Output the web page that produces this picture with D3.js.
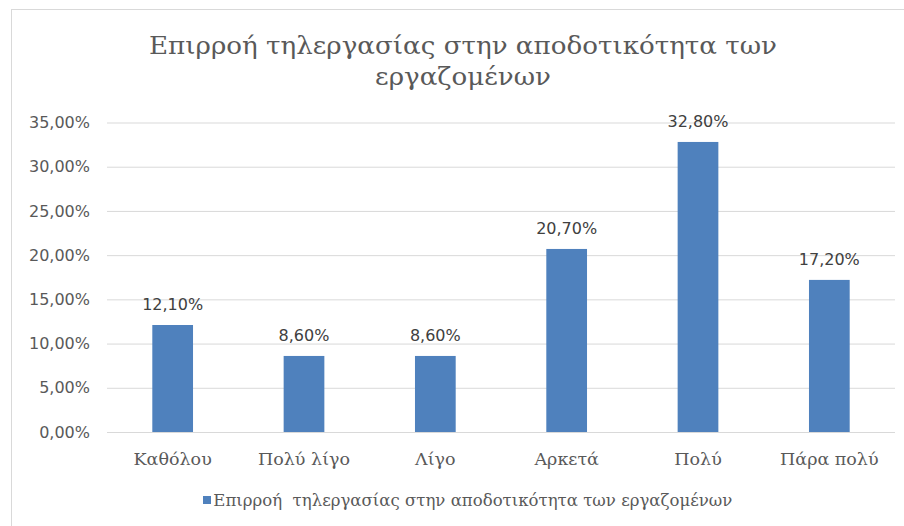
<!DOCTYPE html>
<html>
<head>
<meta charset="utf-8">
<script src="https://cdn.jsdelivr.net/npm/d3@7"></script>
<style>
  html, body { margin: 0; padding: 0; background: #fff; }
  svg { display: block; }
</style>
</head>
<body>
<svg id="chart" width="904" height="526"></svg>
<script>
// Chart content
const titleLines = ["Επιρροή τηλεργασίας στην αποδοτικότητα των", "εργαζομένων"];
const seriesName = "Επιρροή  τηλεργασίας στην αποδοτικότητα των εργαζομένων";
const categories = ["Καθόλου", "Πολύ λίγο", "Λίγο", "Αρκετά", "Πολύ", "Πάρα πολύ"];
const values = [12.1, 8.6, 8.6, 20.7, 32.8, 17.2];
const yTicks = [0, 5, 10, 15, 20, 25, 30, 35];

const fmtPct = v => v.toFixed(2).replace(".", ",") + "%";

const svg = d3.select("#chart");
const textGray = "#595959";
const barColor = "#4f81bd";
const serif = "'DejaVu Serif', serif";
const sans = "'DejaVu Sans', Verdana, sans-serif";

svg.append("rect").attr("width", 904).attr("height", 526).attr("fill", "#fff");

// chart area frame
svg.append("rect")
  .attr("x", 11.5).attr("y", 9.5)
  .attr("width", 920).attr("height", 540)
  .attr("fill", "none").attr("stroke", "#d9d9d9");

const plot = { left: 107, right: 895, top: 122.5, bottom: 432 };

const x = d3.scaleBand()
  .domain(categories)
  .range([plot.left, plot.right])
  .paddingInner(0.69)
  .paddingOuter(0.345);

const y = d3.scaleLinear()
  .domain([0, 35])
  .range([plot.bottom, plot.top]);

// title (serif face set slightly wider than DejaVu's natural width)
const title = svg.append("g").attr("transform", "translate(463,0) scale(1.09,1)");
title.selectAll("text").data(titleLines).join("text")
  .attr("x", 0)
  .attr("y", (d, i) => 54 + i * 31)
  .attr("text-anchor", "middle")
  .attr("font-family", serif).attr("font-size", 24)
  .attr("fill", textGray)
  .text(d => d);

// y axis: gridlines and labels
const yAxis = d3.axisLeft(y)
  .tickValues(yTicks)
  .tickSize(-(plot.right - plot.left))
  .tickPadding(17)
  .tickFormat(fmtPct);

const gy = svg.append("g")
  .attr("transform", `translate(${plot.left},0)`)
  .call(yAxis);
gy.select(".domain").remove();
gy.selectAll(".tick line").attr("stroke", "#d9d9d9").attr("stroke-width", 1);
gy.selectAll(".tick text")
  .attr("font-family", sans).attr("font-size", 16)
  .attr("fill", textGray);

// bars
svg.append("g").selectAll("rect")
  .data(values)
  .join("rect")
  .attr("x", (d, i) => x(categories[i]))
  .attr("y", d => y(d))
  .attr("width", x.bandwidth())
  .attr("height", d => y(0) - y(d))
  .attr("fill", barColor);

// value labels
svg.append("g").selectAll("text")
  .data(values)
  .join("text")
  .attr("x", (d, i) => x(categories[i]) + x.bandwidth() / 2)
  .attr("y", d => y(d) - 15)
  .attr("text-anchor", "middle")
  .attr("font-family", sans).attr("font-size", 16)
  .attr("fill", "#404040")
  .text(d => fmtPct(d));

// x axis labels
const xAxis = d3.axisBottom(x).tickSize(0).tickPadding(21);
const gx = svg.append("g")
  .attr("transform", `translate(0,${plot.bottom})`)
  .call(xAxis);
gx.select(".domain").remove();
gx.selectAll(".tick text")
  .attr("font-family", serif).attr("font-size", 17)
  .attr("fill", textGray)
  .attr("transform", "scale(1.03,1)");

// legend
const legend = svg.append("g").attr("transform", "translate(203,500)");
legend.append("rect")
  .attr("x", 0).attr("y", -4)
  .attr("width", 8).attr("height", 8)
  .attr("fill", barColor);
legend.append("text")
  .attr("x", 10).attr("y", 5.5)
  .attr("font-family", serif).attr("font-size", 16)
  .attr("fill", textGray)
  .attr("transform", "scale(1.035,1)")
  .style("white-space", "pre")
  .text(seriesName);
</script>
</body>
</html>
